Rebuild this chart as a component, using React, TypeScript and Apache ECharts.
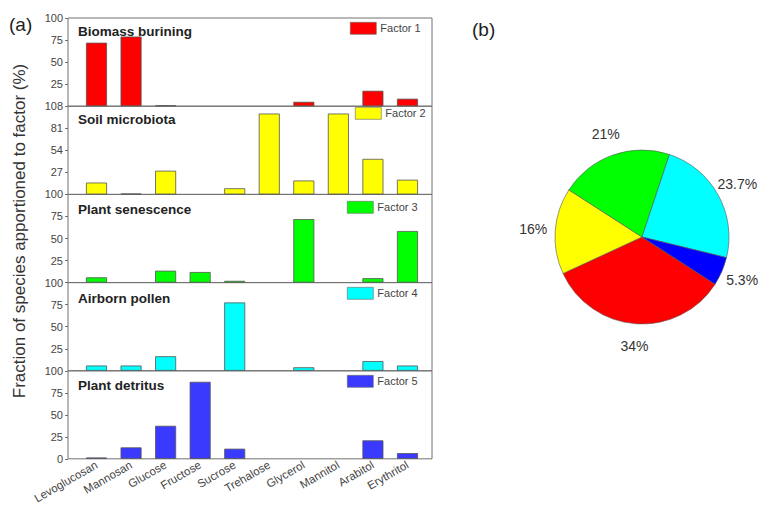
import React, { useEffect, useRef } from "react";
import * as echarts from "echarts";

const categories = ["Levoglucosan", "Mannosan", "Glucose", "Fructose", "Sucrose", "Trehalose", "Glycerol", "Mannitol", "Arabitol", "Erythritol"];
const factorNames = ["Factor 1", "Factor 2", "Factor 3", "Factor 4", "Factor 5"];
const panelTitles = ["Biomass burining", "Soil microbiota", "Plant senescence", "Airborn pollen", "Plant detritus"];
const factor1 = [72, 79, 1, 0, 0, 0, 5, 0, 17.5, 8.5];
const factor2 = [14.5, 1, 29, 0, 7.5, 99, 17, 99, 43.5, 18];
const factor3 = [6, 0, 13.5, 12, 2, 0, 72, 0, 5, 58.5];
const factor4 = [6, 6, 16.5, 0, 77.5, 0, 4, 0, 11, 6];
const factor5 = [1.5, 13, 37.5, 87.5, 11.5, 0, 0, 0, 21, 6.5];
const yMax = [100, 108, 100, 100, 100];
const yInterval = [25, 27, 25, 25, 25];
const pieShares = [34, 16, 21, 23.7, 5.3];
const pieLabels = ["34%", "16%", "21%", "23.7%", "5.3%"];
const colors = ["#ff0000", "#ffff00", "#00ff00", "#00ffff", "#3a3aff"];
const pieColors = ["#ff0000", "#ffff00", "#00ff00", "#00ffff", "#0000ff"];

const FONT = "Liberation Sans, Arial, sans-serif";

export default function App() {
  const ref = useRef<HTMLDivElement>(null);
  useEffect(() => {
    if (!ref.current) return;
    const chart = echarts.init(ref.current, null, { renderer: "svg" });
    const factors = [factor1, factor2, factor3, factor4, factor5];
    const tops = [18, 106.2, 194.4, 282.6, 370.8];
    const legendPos = [
      [350, 22],
      [355, 107],
      [347, 201],
      [347, 287],
      [347, 375],
    ];
    const titleTops = [24, 112, 202, 291, 378];
    const grids = tops.map((t) => ({
      left: 68,
      top: t,
      width: 364,
      height: 88.2,
      show: true,
      borderColor: "#707070",
      borderWidth: 1,
      backgroundColor: "transparent",
      containLabel: false,
    }));
    const xAxes = tops.map((_, i) => ({
      type: "value",
      gridIndex: i,
      min: 0.175,
      max: 10.71,
      axisLine: { show: false },
      axisTick: { show: false },
      splitLine: { show: false },
      axisLabel: i === 4
        ? {
            show: true,
            customValues: categories.map((_, k) => k + 1),
            formatter: (v: number) => categories[Math.round(v) - 1] ?? "",
            rotate: 30,
            fontSize: 11.5,
            color: "#444",
            fontFamily: FONT,
            margin: 5,
          }
        : { show: false },
    }));
    const yAxes = tops.map((_, i) => ({
      type: "value",
      gridIndex: i,
      min: 0,
      max: yMax[i],
      interval: yInterval[i],
      axisLine: { show: false },
      axisTick: { show: true, length: 3, lineStyle: { color: "#707070" } },
      splitLine: { show: false },
      axisLabel: {
        showMinLabel: i === 4,
        fontSize: 11,
        color: "#444",
        fontFamily: FONT,
        margin: 5,
      },
    }));
    const barSeries = factors.map((vals, i) => ({
      type: "bar",
      name: factorNames[i],
      xAxisIndex: i,
      yAxisIndex: i,
      barWidth: 21,
      data: vals.map((v, k) => [k + 1, v === 0 ? null : v]),
      itemStyle: { color: colors[i], borderColor: "#555", borderWidth: 0.8 },
    }));
    const legends = factorNames.map((n, i) => ({
      data: [{ name: n, itemStyle: { borderWidth: 0.6, borderColor: "#666" } }],
      left: legendPos[i][0],
      top: legendPos[i][1],
      padding: 0,
      itemWidth: 26,
      itemHeight: 12,
      itemGap: 4,
      icon: "rect",
      selectedMode: false,
      textStyle: { fontSize: 11, color: "#444", fontFamily: FONT, padding: [0, 0, 0, -1] },
    }));
    const titles = [
      ...panelTitles.map((t, i) => ({
        text: t,
        left: 78,
        top: titleTops[i],
        padding: 0,
        textStyle: { fontSize: 13.5, fontWeight: "bold", color: "#222", fontFamily: FONT },
      })),
      { text: "(a)", left: 9, top: 15, padding: 0, textStyle: { fontSize: 19, fontWeight: "normal", color: "#222", fontFamily: FONT } },
      { text: "(b)", left: 472, top: 20, padding: 0, textStyle: { fontSize: 19, fontWeight: "normal", color: "#222", fontFamily: FONT } },
    ];
    const pieCenter = [642, 237];
    const pieRadius = 87;
    const pieStart = -32.8;
    const labelR = 109;
    const total = pieShares.reduce((a, b) => a + b, 0);
    const cum: number[] = [];
    pieShares.reduce((acc, v) => {
      cum.push(acc);
      return acc + v;
    }, 0);
    const pieSeries = {
      type: "pie",
      center: pieCenter,
      radius: pieRadius,
      startAngle: pieStart,
      clockwise: true,
      avoidLabelOverlap: false,
      label: {
        show: true,
        position: "outside",
        formatter: (p: any) => pieLabels[p.dataIndex],
        fontSize: 14,
        color: "#333",
        fontFamily: FONT,
      },
      labelLine: { show: false, length: 10, length2: 0 },
      labelLayout: (p: any) => {
        const i = p.dataIndex;
        const mid = ((pieStart - ((cum[i] + pieShares[i] / 2) / total) * 360) * Math.PI) / 180;
        return {
          x: pieCenter[0] + labelR * Math.cos(mid),
          y: pieCenter[1] - labelR * Math.sin(mid),
          align: "center",
          verticalAlign: "middle",
        };
      },
      itemStyle: { borderColor: "#555", borderWidth: 0.6 },
      data: pieShares.map((v, i) => ({ value: v, name: factorNames[i], itemStyle: { color: pieColors[i] } })),
    };
    chart.setOption({
      animation: false,
      backgroundColor: "#fff",
      title: titles,
      legend: legends,
      grid: grids,
      xAxis: xAxes,
      yAxis: yAxes,
      graphic: [
        {
          type: "text",
          x: 19,
          y: 231,
          rotation: Math.PI / 2,
          style: {
            text: "Fraction of species apportioned to factor (%)",
            fontSize: 17,
            fill: "#333",
            fontFamily: FONT,
            align: "center",
            verticalAlign: "middle",
          },
        },
      ],
      series: [...barSeries, pieSeries],
    });
    return () => chart.dispose();
  }, []);
  return <div ref={ref} style={{ width: 759, height: 506, position: "absolute", left: 0, top: 0 }} />;
}
